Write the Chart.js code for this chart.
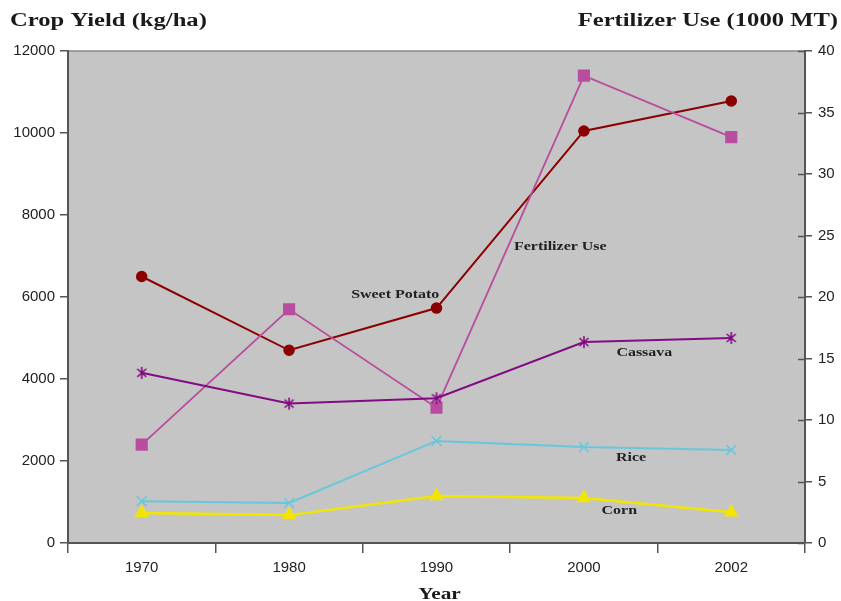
<!DOCTYPE html>
<html>
<head>
<meta charset="utf-8">
<style>
  html, body { margin: 0; padding: 0; background: #ffffff; }
  #wrap { width: 841px; height: 601px; }
</style>
<script src="https://cdn.jsdelivr.net/npm/chart.js@4/dist/chart.umd.min.js"></script>
</head>
<body>
<div id="wrap"><canvas id="chart" width="841" height="601"></canvas></div>
<script>
// Years on the category axis
const years = ['1970', '1980', '1990', '2000', '2002'];

// Crop yields, kg/ha (left axis)
const sweetPotato = [6500, 4700, 5730, 10050, 10780];
const cassava     = [4150, 3400, 3530, 4900, 5000];
const rice        = [1020, 975, 2490, 2340, 2270];
const corn        = [730, 680, 1145, 1100, 750];

// Fertilizer use, 1000 MT (right axis)
const fertilizerUse = [8, 19, 11, 38, 33];

// Series names written beside the lines
const seriesNames = ['Sweet Potato', 'Fertilizer Use', 'Cassava', 'Rice', 'Corn'];

// Axis ranges and tick labels
const yieldTicks = [0, 2000, 4000, 6000, 8000, 10000, 12000];
const fertTicks  = [0, 5, 10, 15, 20, 25, 30, 35, 40];

const AXIS = '#555555';
const TICK_FONT = { family: "'Liberation Sans', Arial, sans-serif", size: 15 };
const SERIF = "'Liberation Serif', 'Times New Roman', serif";
const STRETCH = 1.33;   // wide-set bold serif for headings and names

// Asterisk marker (an x crossed by a vertical stroke)
function asteriskMarker(color) {
  const c = document.createElement('canvas');
  c.width = 14; c.height = 14;
  const g = c.getContext('2d');
  g.strokeStyle = color;
  g.lineWidth = 1.6;
  g.beginPath();
  g.moveTo(7, 1); g.lineTo(7, 13);
  g.moveTo(2.5, 3); g.lineTo(11.5, 11);
  g.moveTo(11.5, 3); g.lineTo(2.5, 11);
  g.stroke();
  return c;
}

// Draw text stretched horizontally; align is 'left', 'center' or 'right'
function wideText(ctx, text, x, y, align) {
  const w = ctx.measureText(text).width * STRETCH;
  const x0 = align === 'left' ? x : align === 'right' ? x - w : x - w / 2;
  ctx.save();
  ctx.textAlign = 'left';
  ctx.translate(x0, y);
  ctx.scale(STRETCH, 1);
  ctx.fillText(text, 0, 0);
  ctx.restore();
}

// Grey plotting background, top frame line and inner half of right-axis ticks
const plotDecor = {
  id: 'plotDecor',
  beforeDraw(chart) {
    const { ctx, chartArea: a } = chart;
    ctx.save();
    ctx.fillStyle = '#C5C5C5';
    ctx.fillRect(a.left, a.top, a.right - a.left, a.bottom - a.top);
    ctx.strokeStyle = '#8a8a8a';
    ctx.lineWidth = 1.5;
    ctx.beginPath();
    ctx.moveTo(a.left, a.top);
    ctx.lineTo(a.right, a.top);
    ctx.stroke();
    ctx.restore();
  },
  afterDraw(chart) {
    const { ctx } = chart;
    const s = chart.scales.y1;
    ctx.save();
    ctx.strokeStyle = AXIS;
    ctx.lineWidth = 1.5;
    ctx.beginPath();
    s.ticks.forEach(t => {
      const y = Math.round(s.getPixelForValue(t.value)) + 0.5;
      ctx.moveTo(s.left - 7, y);
      ctx.lineTo(s.left, y);
    });
    ctx.stroke();
    ctx.restore();
  }
};

// Axis headings and series names
const textLayer = {
  id: 'textLayer',
  afterDraw(chart, args, opts) {
    const { ctx } = chart;
    const x = chart.scales.x, y = chart.scales.y;
    ctx.save();
    ctx.fillStyle = '#1a1a1a';
    ctx.textBaseline = 'alphabetic';
    ctx.font = `bold 18.5px ${SERIF}`;
    wideText(ctx, 'Crop Yield (kg/ha)', 10, 26, 'left');
    wideText(ctx, 'Fertilizer Use (1000 MT)', 838, 26, 'right');

    // x-axis title
    ctx.font = `bold 16px ${SERIF}`;
    wideText(ctx, 'Year', (x.left + x.right) / 2 + 3, 599, 'center');

    ctx.font = `bold 12px ${SERIF}`;
    ctx.fillStyle = '#222222';
    ctx.textBaseline = 'middle';
    opts.labels.forEach(l => {
      wideText(ctx, l.text, x.getPixelForValue(l.at), y.getPixelForValue(l.level), 'center');
    });
    ctx.restore();
  }
};

const line = (label, data, color, style, radius, axis, width) => ({
  label, data, yAxisID: axis,
  borderColor: color, backgroundColor: color,
  borderWidth: width || 2,
  pointStyle: style, pointRadius: radius, pointHoverRadius: radius,
  pointBorderColor: color, pointBackgroundColor: color, pointBorderWidth: 1.5,
  tension: 0
});

const plainTick = v => String(v);

new Chart(document.getElementById('chart'), {
  type: 'line',
  data: {
    labels: years,
    datasets: [
      line('Corn', corn, '#F2E600', 'triangle', 7, 'y', 2.5),
      line('Rice', rice, '#66C8DC', 'crossRot', 7, 'y'),
      line('Cassava', cassava, '#820A82', asteriskMarker('#820A82'), 7, 'y'),
      line('Fertilizer Use', fertilizerUse, '#B84C9E', 'rect', 7.5, 'y1', 1.8),
      line('Sweet Potato', sweetPotato, '#8B0000', 'circle', 5, 'y')
    ]
  },
  plugins: [plotDecor, textLayer],
  options: {
    responsive: false,
    animation: false,
    layout: { padding: { top: 51, left: 0, right: 0, bottom: 0 } },
    plugins: {
      legend: { display: false },
      tooltip: { enabled: false },
      textLayer: {
        labels: [
          { text: seriesNames[0], at: 1.72, level: 6050 },
          { text: seriesNames[1], at: 2.84, level: 7220 },
          { text: seriesNames[2], at: 3.41, level: 4630 },
          { text: seriesNames[3], at: 3.32, level: 2070 },
          { text: seriesNames[4], at: 3.24, level: 780 }
        ]
      }
    },
    scales: {
      x: {
        offset: true,
        grid: { offset: true, drawOnChartArea: false, tickLength: 10, color: AXIS, lineWidth: 1.5 },
        border: { color: AXIS, width: 2 },
        ticks: { font: TICK_FONT, color: '#222222', padding: 6, maxRotation: 0 },
        afterFit(s) { s.height = 58; }
      },
      y: {
        position: 'left',
        min: yieldTicks[0], max: yieldTicks[yieldTicks.length - 1],
        afterBuildTicks(s) { s.ticks = yieldTicks.map(v => ({ value: v })); },
        grid: { drawOnChartArea: false, tickLength: 8, color: AXIS, lineWidth: 1.5 },
        border: { color: AXIS, width: 2 },
        ticks: { font: TICK_FONT, color: '#222222', padding: 5, callback: plainTick },
        afterFit(s) { s.width = 68; }
      },
      y1: {
        position: 'right',
        min: fertTicks[0], max: fertTicks[fertTicks.length - 1],
        afterBuildTicks(s) { s.ticks = fertTicks.map(v => ({ value: v })); },
        grid: { drawOnChartArea: false, tickLength: 7, color: AXIS, lineWidth: 1.5 },
        border: { color: AXIS, width: 2 },
        ticks: { font: TICK_FONT, color: '#222222', padding: 6, callback: plainTick },
        afterFit(s) { s.width = 36; }
      }
    }
  }
});
</script>
</body>
</html>
